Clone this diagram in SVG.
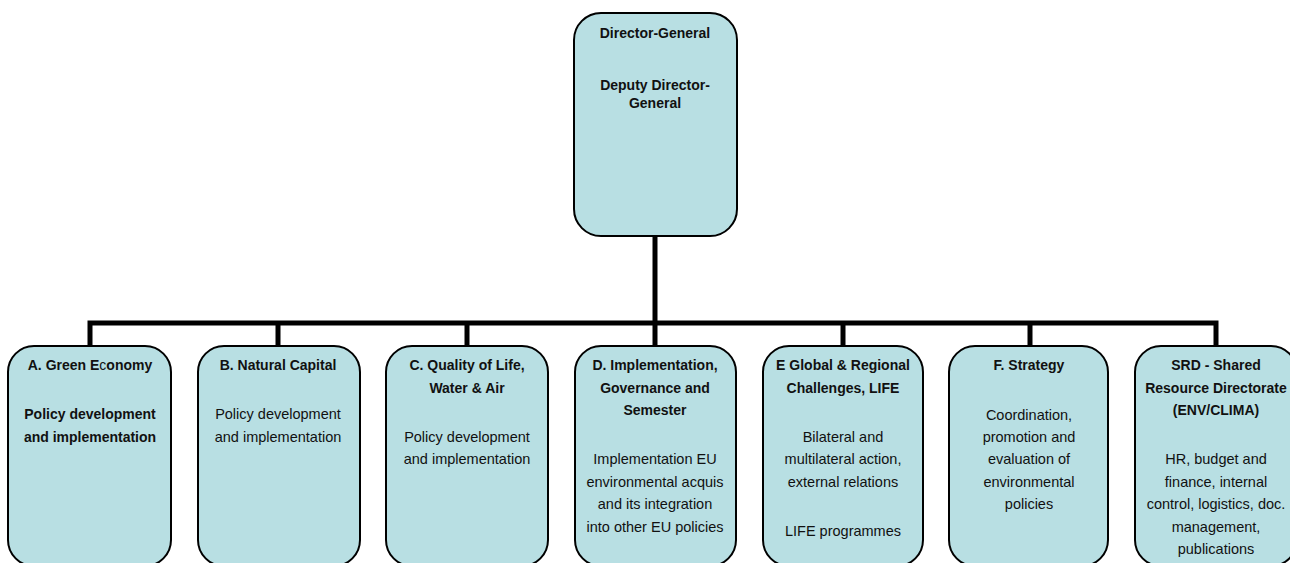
<svg xmlns="http://www.w3.org/2000/svg" width="1290" height="563" viewBox="0 0 1290 563">
<style>
.box{fill:#b8dfe3;stroke:#000;stroke-width:2}
.t{font-family:"Liberation Sans",Arial,sans-serif;font-size:14.5px;fill:#111;text-anchor:middle}
.b{font-weight:bold;font-size:14px}
.conn{fill:none;stroke:#000;stroke-width:5;stroke-linejoin:miter}
</style>
<rect width="1290" height="563" fill="#fff"/>
<g id="connectors">
<path class="conn" d="M655 236 V323"/>
<path class="conn" d="M90 346 V323 H1216 V346"/>
<path class="conn" d="M278 323 V346 M467 323 V346 M655 323 V346 M843 323 V346 M1030 323 V346"/>
</g>
<g id="dg">
<rect class="box" x="574" y="13" width="163" height="223" rx="27"/>
<text class="t b" x="655" y="38">Director-General</text>
<text class="t b" x="655" y="90">Deputy Director-</text>
<text class="t b" x="655" y="108">General</text>
</g>
<g id="a">
<rect class="box" x="8" y="346" width="163" height="220" rx="26"/>
<text class="t b" x="90" y="370">A. Green E<tspan font-weight="normal">c</tspan>onomy</text>
<text class="t b" x="90" y="419">Policy development</text>
<text class="t b" x="90" y="442">and implementation</text>
</g>
<g id="b">
<rect class="box" x="198" y="346" width="162" height="220" rx="26"/>
<text class="t b" x="278" y="370">B. Natural Capital</text>
<text class="t" x="278" y="419">Policy development</text>
<text class="t" x="278" y="442">and implementation</text>
</g>
<g id="c">
<rect class="box" x="386" y="346" width="162" height="220" rx="26"/>
<text class="t b" x="467" y="370">C. Quality of Life,</text>
<text class="t b" x="467" y="393">Water &amp; Air</text>
<text class="t" x="467" y="442">Policy development</text>
<text class="t" x="467" y="464">and implementation</text>
</g>
<g id="d">
<rect class="box" x="575" y="346" width="161" height="220" rx="26"/>
<text class="t b" x="655" y="370">D. Implementation,</text>
<text class="t b" x="655" y="393">Governance and</text>
<text class="t b" x="655" y="415">Semester</text>
<text class="t" x="655" y="464">Implementation EU</text>
<text class="t" x="655" y="487">environmental acquis</text>
<text class="t" x="655" y="509">and its integration</text>
<text class="t" x="655" y="532">into other EU policies</text>
</g>
<g id="e">
<rect class="box" x="763" y="346" width="160" height="220" rx="26"/>
<text class="t b" x="843" y="370">E Global &amp; Regional</text>
<text class="t b" x="843" y="393">Challenges, LIFE</text>
<text class="t" x="843" y="442">Bilateral and</text>
<text class="t" x="843" y="464">multilateral action,</text>
<text class="t" x="843" y="487">external relations</text>
<text class="t" x="843" y="536">LIFE programmes</text>
</g>
<g id="f">
<rect class="box" x="949" y="346" width="159" height="220" rx="26"/>
<text class="t b" x="1029" y="370">F. Strategy</text>
<text class="t" x="1029" y="420">Coordination,</text>
<text class="t" x="1029" y="442">promotion and</text>
<text class="t" x="1029" y="464">evaluation of</text>
<text class="t" x="1029" y="487">environmental</text>
<text class="t" x="1029" y="509">policies</text>
</g>
<g id="srd">
<rect class="box" x="1135" y="346" width="162" height="220" rx="26"/>
<text class="t b" x="1216" y="370">SRD - Shared</text>
<text class="t b" x="1216" y="393">Resource Directorate</text>
<text class="t b" x="1216" y="415">(ENV/CLIMA)</text>
<text class="t" x="1216" y="464">HR, budget and</text>
<text class="t" x="1216" y="487">finance, internal</text>
<text class="t" x="1216" y="509">control, logistics, doc.</text>
<text class="t" x="1216" y="532">management,</text>
<text class="t" x="1216" y="554">publications</text>
</g>
</svg>
